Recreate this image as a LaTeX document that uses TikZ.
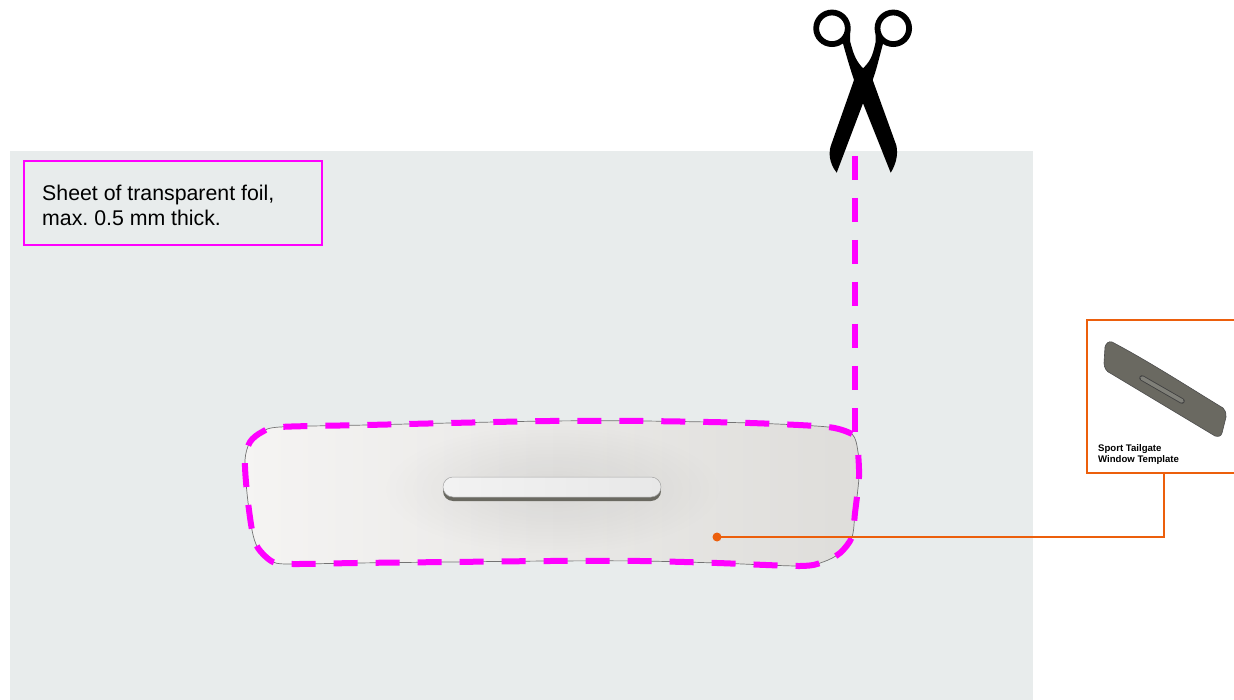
\documentclass[tikz,border=0pt]{standalone}
\usepackage{fontspec}
\setmainfont{Liberation Sans}
\usetikzlibrary{fadings}
\tikzfading[name=softglow, inner color=transparent!0, outer color=transparent!100]
\definecolor{sheetc}{HTML}{E8ECEC}
\definecolor{magc}{HTML}{FF00FF}
\definecolor{orc}{HTML}{EC5F0C}
\definecolor{darkc}{HTML}{6A6961}
\definecolor{partl}{HTML}{F5F4F3}
\definecolor{partr}{HTML}{DEDDDA}
\def\outlinepts{(852,434)(828,427)(750,423)(643,421)(550,421)(450,423)(367,425)(280,427)(262,432)(250,442)(245,460)(247,493)(252,530)(258,548)(273,562)(293,564)(357,563)(450,562)(550,561)(640,561)(717,563)(800,566)(823,562)(840,553)(852,537)(855,513)(859,477)(858,452)}
\tikzset{
 foil/.style={fill=sheetc,draw=none},
 cutline/.style={draw=magc,line width=6pt,dash pattern=on 24pt off 18pt},
 callout/.style={draw=orc,line width=2pt},
 orline/.style={draw=orc,line width=1.8pt},
 scissor/.style={fill=black,draw=none},
 ring/.style={draw=black,line width=5.8pt,fill=none}
}
\begin{document}
\begin{tikzpicture}[x=1pt,y=-1pt]
\useasboundingbox (0,0) rectangle (1234,700);
\fill[white] (0,0) rectangle (1234,700);
\path[foil] (10,151) rectangle (1033,700);
% template part
\begin{scope}
\path[clip] plot[smooth cycle,tension=0.5] coordinates {\outlinepts};
\shade[left color=partl, right color=partr] (240,415) rectangle (865,570);
\fill[black,opacity=.075,path fading=softglow,fit fading=true] (552,489) ellipse (170 and 65);
\end{scope}
\draw[black!55,line width=.7pt] plot[smooth cycle,tension=0.5] coordinates {\outlinepts};
% slot
\fill[darkc,rounded corners=10pt] (443,481) rectangle (661,501);
\shade[left color=black!5!white,right color=black!9!white,draw=black!35,line width=.5pt,rounded corners=10pt] (443,477) rectangle (661,497);
% cut line
\coordinate (cutstart) at (855,156);
\coordinate (cutend) at (855,432);
\path[cutline] (cutstart) -- (cutend);
\path[cutline] plot[smooth,tension=0.5] coordinates {\outlinepts};
% scissors
\path[scissor] (836.7,172.7) -- (863,103.3) -- (890.7,172.7)
 .. controls (897,163) and (899,150) .. (895,141.7)
 -- (872.7,80) .. controls (877,68) and (879,58) .. (884,40)
 -- (875.7,30) -- (875.7,41.7) .. controls (873.3,52) and (872,60) .. (863,68.3)
 .. controls (855,60) and (853,52) .. (850.2,41.7)
 -- (850.2,30) -- (842,40) .. controls (847,58) and (850,68) .. (854,80)
 -- (831.7,143.3) .. controls (828,152) and (829,163) .. cycle;
\draw[ring] (832,28.3) circle (15.8);
\draw[ring] (893.3,28.3) circle (15.8);
% label
\node[draw=magc,line width=1.5pt,minimum width=298pt,minimum height=84pt,inner sep=0pt] (labelbox) at (173,203) {};
\node[anchor=west,align=left,font=\frenchspacing\fontsize{21.3}{25}\selectfont,inner sep=0pt] (labeltext) at (42,205.5) {Sheet of transparent foil,\\max. 0.5 mm thick.};
% inset
\node[callout,fill=white,minimum width=154pt,minimum height=153pt,inner sep=0pt] (insetbox) at (1164,396.5) {};
\path[fill=darkc,draw=black!70,line width=.6pt] (1112,342) .. controls (1109,341) and (1106,343) .. (1105,347) -- (1104,363) .. controls (1104,368) and (1107,372) .. (1110,373) -- (1215,436) .. controls (1219,437) and (1221,436) .. (1222,433) -- (1226,417) .. controls (1226,412) and (1225,410) .. (1223,408) .. controls (1190,388) and (1150,362) .. cycle;
\draw[black!75,line width=5.5pt,line cap=round] (1142,378) -- (1182,401);
\draw[darkc!85!white,line width=3.8pt,line cap=round] (1142,378) -- (1182,401);
\node[anchor=north west,align=left,font=\bfseries\fontsize{9.6}{11}\selectfont,inner sep=0pt] (insettext) at (1098,444.5) {Sport Tailgate\\Window Template};
% connector
\node[circle,fill=orc,minimum size=9pt,inner sep=0pt] (dot) at (717,537) {};
\draw[orline] (dot.center) -| (insetbox.south);
\end{tikzpicture}
\end{document}
